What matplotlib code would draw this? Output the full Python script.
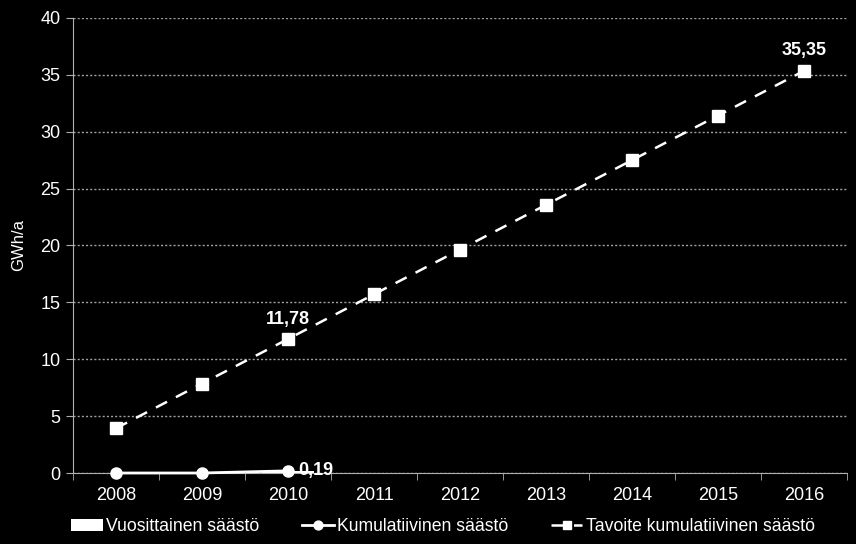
import matplotlib
matplotlib.use("Agg")
import matplotlib.pyplot as plt
import numpy as np

plt.rcParams['font.family'] = ['Liberation Sans', 'DejaVu Sans']

years = ["2008", "2009", "2010", "2011", "2012", "2013", "2014", "2015", "2016"]
annual = [0.0, 0.0, 0.19]
cumulative = [0.0, 0.0, 0.19]
target = [3.93, 7.86, 11.78, 15.71, 19.64, 23.57, 27.50, 31.42, 35.35]

x = np.arange(len(years))

fig = plt.figure(figsize=(8.56, 5.44), dpi=100, facecolor="black")
ax = fig.add_axes([0.0853, 0.1305, 0.9042, 0.8365], facecolor="black")

b = ax.bar(x[:len(annual)], annual, width=0.6, color="white", label="Vuosittainen säästö", zorder=2)
l1, = ax.plot(x[:len(cumulative)], cumulative, color="white", lw=2, marker="o", ms=8,
              label="Kumulatiivinen säästö", zorder=4, clip_on=False)
l2, = ax.plot(x, target, color="white", lw=1.8, ls=(0, (5, 4)), marker="s", ms=8,
              label="Tavoite kumulatiivinen säästö", zorder=3, clip_on=False)

# data labels
ax.text(x[2], target[2] + 1.0, "11,78", color="white", fontsize=13, fontweight="bold",
        ha="center", va="bottom")
ax.text(x[8], target[8] + 1.0, "35,35", color="white", fontsize=13, fontweight="bold",
        ha="center", va="bottom")
ax.text(x[2] + 0.12, cumulative[2], "0,19", color="white", fontsize=13, fontweight="bold",
        ha="left", va="center", zorder=5)

ax.set_xlim(-0.5, len(years) - 0.5)
ax.set_ylim(0, 40)
ax.set_yticks(range(0, 41, 5))
ax.set_xticks(x)
ax.set_xticklabels(years)
ax.set_xticks(np.arange(-0.5, len(years), 1), minor=True)
ax.tick_params(axis="x", which="major", length=0, colors="white", labelsize=13, pad=10)
ax.tick_params(axis="x", which="minor", length=5, color="#b0b0b0")
ax.tick_params(axis="y", length=5, color="#b0b0b0", labelcolor="white", labelsize=13, pad=4)

ax.grid(axis="y", color="#a0a0a0", ls=(0, (1.5, 1.5)), lw=1)
ax.set_axisbelow(True)
for s in ["top", "right"]:
    ax.spines[s].set_visible(False)
ax.spines["left"].set_color("#b0b0b0")
ax.spines["bottom"].set_color("#b0b0b0")

ax.set_ylabel("GWh/a", color="white", fontsize=12, labelpad=10)

leg = ax.legend(handles=[b, l1, l2], loc="upper center", bbox_to_anchor=(0.478, -0.065), ncol=3,
                frameon=False, fontsize=12.7, labelcolor="white", handlelength=1.8,
                columnspacing=2.4, handletextpad=0.2, markerscale=0.8)

fig.savefig("out.png", dpi=100, facecolor="black")
